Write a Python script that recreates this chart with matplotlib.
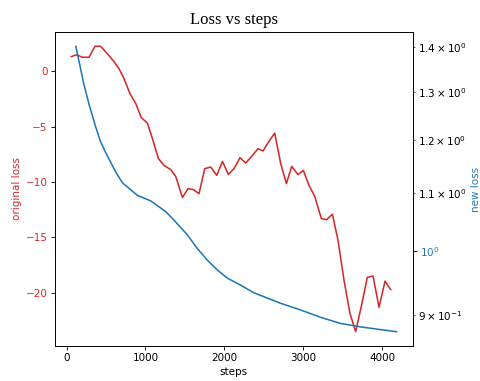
import matplotlib
matplotlib.use("Agg")
import matplotlib.pyplot as plt

# original loss (red, left axis)
orig_steps = [60, 129, 201, 285, 361, 433, 518, 602, 665, 721, 805, 877, 949, 1025,
              1089, 1165, 1236, 1321, 1384, 1469, 1540, 1608, 1679, 1752, 1828, 1904,
              1976, 2052, 2123, 2199, 2271, 2347, 2427, 2490, 2559, 2639, 2715, 2787,
              2854, 2934, 3002, 3073, 3146, 3230, 3298, 3370, 3441, 3517, 3593, 3665,
              3737, 3813, 3885, 3961, 4037, 4109]
orig_loss = [1.32, 1.48, 1.26, 1.26, 2.25, 2.25, 1.57, 0.87, 0.22, -0.54, -2.04, -2.91,
             -4.2, -4.68, -6.09, -7.89, -8.5, -8.88, -9.49, -11.4, -10.6, -10.68, -11.05,
             -8.79, -8.65, -9.4, -8.14, -9.31, -8.79, -7.8, -8.29, -7.68, -6.99, -7.2,
             -6.4, -5.59, -8.34, -10.14, -8.59, -9.33, -8.95, -10.3, -11.29, -13.3,
             -13.39, -12.9, -15.25, -18.86, -21.86, -23.5, -21.2, -18.6, -18.47, -21.3,
             -18.94, -19.7]

# new loss (blue, right log axis)
new_steps = [117, 170, 219, 285, 368, 430, 497, 624, 708, 898, 1067, 1257, 1362, 1469,
             1530, 1657, 1783, 1910, 2037, 2206, 2376, 2460, 2713, 2966, 3220, 3473,
             3726, 3980, 4183]
new_loss = [1.402, 1.358, 1.317, 1.274, 1.228, 1.198, 1.176, 1.139, 1.119, 1.096, 1.086,
            1.067, 1.052, 1.036, 1.027, 1.004, 0.985, 0.969, 0.956, 0.945, 0.933, 0.929,
            0.917, 0.907, 0.896, 0.887, 0.882, 0.878, 0.875]

fig, ax1 = plt.subplots(figsize=(6.4, 5.08), dpi=75)
fig.subplots_adjust(left=0.1146, right=0.860, top=0.916, bottom=0.092)

ax1.plot(orig_steps, orig_loss, color='tab:red')
ax1.set_xlabel('steps')
ax1.set_ylabel('original loss', color='tab:red')
ax1.tick_params(axis='y', labelcolor='tab:red')
ax1.set_title('Loss vs steps', fontsize=16, family='Liberation Serif', pad=8)

ax2 = ax1.twinx()
ax2.plot(new_steps, new_loss, color='tab:blue')
ax2.set_yscale('log')
ax2.set_ylabel('new loss', color='tab:blue')
ax2.tick_params(axis='y', labelcolor='tab:blue')

fig.savefig('out.png', dpi=75)
